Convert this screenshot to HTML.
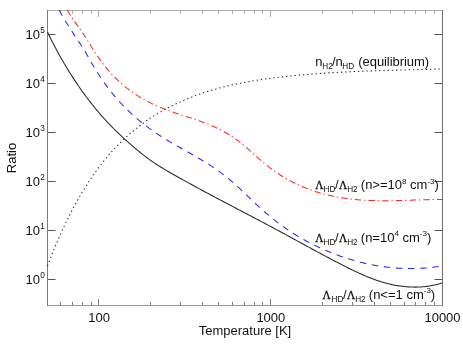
<!DOCTYPE html>
<html><head><meta charset="utf-8"><title>plot</title>
<style>
html,body{margin:0;padding:0;background:#fff;}
svg{display:block;will-change:transform;font-family:"Liberation Sans",sans-serif;font-size:13px;fill:#111;}
</style></head><body>
<svg width="463" height="348" viewBox="0 0 463 348">
<rect width="463" height="348" fill="#fff"/>
<g fill="none" stroke-width="1">
<path d="M47.5,10.5 H442.5" stroke="#b0b0b0"/><path d="M47.5,305.5 H442.5" stroke="#9c9c9c"/>
<path d="M47.5,10.0 V306.0" stroke="#7c7c7c"/><path d="M442.5,10.0 V306.0" stroke="#707070"/>
<path d="M60.5,305.0 v-3" stroke="#7a7a7a"/><path d="M60.5,11.0 v3" stroke="#acacac"/>
<path d="M72.5,305.0 v-3" stroke="#7a7a7a"/><path d="M72.5,11.0 v3" stroke="#acacac"/>
<path d="M82.5,305.0 v-3" stroke="#7a7a7a"/><path d="M82.5,11.0 v3" stroke="#acacac"/>
<path d="M91.5,305.0 v-3" stroke="#7a7a7a"/><path d="M91.5,11.0 v3" stroke="#acacac"/>
<path d="M98.5,305.0 v-6" stroke="#7a7a7a"/><path d="M98.5,11.0 v6" stroke="#acacac"/>
<path d="M150.5,305.0 v-3" stroke="#7a7a7a"/><path d="M150.5,11.0 v3" stroke="#acacac"/>
<path d="M180.5,305.0 v-3" stroke="#7a7a7a"/><path d="M180.5,11.0 v3" stroke="#acacac"/>
<path d="M202.5,305.0 v-3" stroke="#7a7a7a"/><path d="M202.5,11.0 v3" stroke="#acacac"/>
<path d="M218.5,305.0 v-3" stroke="#7a7a7a"/><path d="M218.5,11.0 v3" stroke="#acacac"/>
<path d="M232.5,305.0 v-3" stroke="#7a7a7a"/><path d="M232.5,11.0 v3" stroke="#acacac"/>
<path d="M244.5,305.0 v-3" stroke="#7a7a7a"/><path d="M244.5,11.0 v3" stroke="#acacac"/>
<path d="M254.5,305.0 v-3" stroke="#7a7a7a"/><path d="M254.5,11.0 v3" stroke="#acacac"/>
<path d="M262.5,305.0 v-3" stroke="#7a7a7a"/><path d="M262.5,11.0 v3" stroke="#acacac"/>
<path d="M270.5,305.0 v-6" stroke="#7a7a7a"/><path d="M270.5,11.0 v6" stroke="#acacac"/>
<path d="M322.5,305.0 v-3" stroke="#7a7a7a"/><path d="M322.5,11.0 v3" stroke="#acacac"/>
<path d="M352.5,305.0 v-3" stroke="#7a7a7a"/><path d="M352.5,11.0 v3" stroke="#acacac"/>
<path d="M374.5,305.0 v-3" stroke="#7a7a7a"/><path d="M374.5,11.0 v3" stroke="#acacac"/>
<path d="M390.5,305.0 v-3" stroke="#7a7a7a"/><path d="M390.5,11.0 v3" stroke="#acacac"/>
<path d="M404.5,305.0 v-3" stroke="#7a7a7a"/><path d="M404.5,11.0 v3" stroke="#acacac"/>
<path d="M415.5,305.0 v-3" stroke="#7a7a7a"/><path d="M415.5,11.0 v3" stroke="#acacac"/>
<path d="M425.5,305.0 v-3" stroke="#7a7a7a"/><path d="M425.5,11.0 v3" stroke="#acacac"/>
<path d="M434.5,305.0 v-3" stroke="#7a7a7a"/><path d="M434.5,11.0 v3" stroke="#acacac"/>
<path d="M48.0,279.5 h7.5 M442.0,279.5 h-7.5" stroke="#565656"/>
<path d="M48.0,230.5 h7.5 M442.0,230.5 h-7.5" stroke="#565656"/>
<path d="M48.0,181.5 h7.5 M442.0,181.5 h-7.5" stroke="#565656"/>
<path d="M48.0,132.5 h7.5 M442.0,132.5 h-7.5" stroke="#565656"/>
<path d="M48.0,83.5 h7.5 M442.0,83.5 h-7.5" stroke="#565656"/>
<path d="M48.0,34.5 h7.5 M442.0,34.5 h-7.5" stroke="#565656"/>
</g>
<g fill="none" stroke-width="1.05">
<path d="M47.50,32.01 L48.82,34.77 L50.14,37.49 L51.46,40.15 L52.78,42.77 L54.11,45.34 L55.43,47.86 L56.75,50.33 L58.07,52.76 L59.39,55.16 L60.71,57.51 L62.03,59.82 L63.35,62.10 L64.67,64.34 L65.99,66.55 L67.32,68.72 L68.64,70.87 L69.96,72.98 L71.28,75.07 L72.60,77.13 L73.92,79.15 L75.24,81.15 L76.56,83.13 L77.88,85.07 L79.21,86.99 L80.53,88.89 L81.85,90.75 L83.17,92.59 L84.49,94.40 L85.81,96.19 L87.13,97.96 L88.45,99.70 L89.77,101.41 L91.10,103.10 L92.42,104.77 L93.74,106.41 L95.06,108.03 L96.38,109.63 L97.70,111.20 L99.02,112.76 L100.34,114.29 L101.66,115.80 L102.98,117.29 L104.31,118.76 L105.63,120.21 L106.95,121.64 L108.27,123.05 L109.59,124.44 L110.91,125.81 L112.23,127.16 L113.55,128.50 L114.87,129.81 L116.20,131.11 L117.52,132.39 L118.84,133.66 L120.16,134.91 L121.48,136.15 L122.80,137.37 L124.12,138.58 L125.44,139.78 L126.76,140.96 L128.09,142.13 L129.41,143.30 L130.73,144.45 L132.05,145.60 L133.37,146.74 L134.69,147.87 L136.01,148.99 L137.33,150.09 L138.65,151.19 L139.97,152.27 L141.30,153.34 L142.62,154.40 L143.94,155.43 L145.26,156.46 L146.58,157.46 L147.90,158.45 L149.22,159.41 L150.54,160.36 L151.86,161.29 L153.19,162.19 L154.51,163.08 L155.83,163.95 L157.15,164.80 L158.47,165.64 L159.79,166.46 L161.11,167.27 L162.43,168.07 L163.75,168.86 L165.08,169.64 L166.40,170.41 L167.72,171.18 L169.04,171.94 L170.36,172.70 L171.68,173.46 L173.00,174.21 L174.32,174.96 L175.64,175.71 L176.96,176.46 L178.29,177.20 L179.61,177.94 L180.93,178.68 L182.25,179.42 L183.57,180.16 L184.89,180.90 L186.21,181.63 L187.53,182.36 L188.85,183.09 L190.18,183.82 L191.50,184.54 L192.82,185.27 L194.14,185.99 L195.46,186.71 L196.78,187.43 L198.10,188.15 L199.42,188.86 L200.74,189.58 L202.07,190.29 L203.39,191.00 L204.71,191.71 L206.03,192.42 L207.35,193.13 L208.67,193.83 L209.99,194.54 L211.31,195.24 L212.63,195.95 L213.95,196.65 L215.28,197.35 L216.60,198.05 L217.92,198.75 L219.24,199.45 L220.56,200.15 L221.88,200.84 L223.20,201.54 L224.52,202.23 L225.84,202.93 L227.17,203.62 L228.49,204.32 L229.81,205.01 L231.13,205.70 L232.45,206.40 L233.77,207.09 L235.09,207.78 L236.41,208.47 L237.73,209.17 L239.06,209.86 L240.38,210.55 L241.70,211.24 L243.02,211.93 L244.34,212.63 L245.66,213.32 L246.98,214.01 L248.30,214.70 L249.62,215.40 L250.94,216.09 L252.27,216.78 L253.59,217.48 L254.91,218.17 L256.23,218.87 L257.55,219.56 L258.87,220.26 L260.19,220.96 L261.51,221.65 L262.83,222.35 L264.16,223.05 L265.48,223.75 L266.80,224.45 L268.12,225.16 L269.44,225.86 L270.76,226.56 L272.08,227.27 L273.40,227.98 L274.72,228.68 L276.05,229.39 L277.37,230.10 L278.69,230.82 L280.01,231.53 L281.33,232.24 L282.65,232.96 L283.97,233.67 L285.29,234.39 L286.61,235.11 L287.93,235.83 L289.26,236.55 L290.58,237.27 L291.90,237.99 L293.22,238.71 L294.54,239.43 L295.86,240.15 L297.18,240.87 L298.50,241.60 L299.82,242.32 L301.15,243.04 L302.47,243.76 L303.79,244.48 L305.11,245.20 L306.43,245.92 L307.75,246.64 L309.07,247.36 L310.39,248.08 L311.71,248.79 L313.04,249.51 L314.36,250.23 L315.68,250.94 L317.00,251.65 L318.32,252.36 L319.64,253.08 L320.96,253.78 L322.28,254.49 L323.60,255.20 L324.92,255.90 L326.25,256.60 L327.57,257.30 L328.89,258.00 L330.21,258.70 L331.53,259.39 L332.85,260.09 L334.17,260.78 L335.49,261.46 L336.81,262.15 L338.14,262.83 L339.46,263.51 L340.78,264.19 L342.10,264.86 L343.42,265.54 L344.74,266.21 L346.06,266.87 L347.38,267.53 L348.70,268.19 L350.03,268.84 L351.35,269.49 L352.67,270.13 L353.99,270.76 L355.31,271.39 L356.63,272.01 L357.95,272.63 L359.27,273.23 L360.59,273.83 L361.91,274.42 L363.24,275.00 L364.56,275.57 L365.88,276.14 L367.20,276.69 L368.52,277.23 L369.84,277.76 L371.16,278.27 L372.48,278.78 L373.80,279.27 L375.13,279.75 L376.45,280.22 L377.77,280.67 L379.09,281.11 L380.41,281.54 L381.73,281.95 L383.05,282.34 L384.37,282.72 L385.69,283.08 L387.02,283.43 L388.34,283.76 L389.66,284.08 L390.98,284.38 L392.30,284.67 L393.62,284.94 L394.94,285.19 L396.26,285.43 L397.58,285.65 L398.90,285.86 L400.23,286.05 L401.55,286.23 L402.87,286.39 L404.19,286.53 L405.51,286.66 L406.83,286.78 L408.15,286.87 L409.47,286.95 L410.79,287.02 L412.12,287.07 L413.44,287.10 L414.76,287.11 L416.08,287.10 L417.40,287.08 L418.72,287.04 L420.04,286.98 L421.36,286.90 L422.68,286.80 L424.01,286.69 L425.33,286.55 L426.65,286.39 L427.97,286.22 L429.29,286.02 L430.61,285.81 L431.93,285.57 L433.25,285.31 L434.57,285.03 L435.89,284.73 L437.22,284.41 L438.54,284.07 L439.86,283.70 L441.18,283.31 L442.50,282.90" stroke="#282828"/>
<path d="M59.30,10.01 L60.58,12.66 L61.86,15.10 L63.14,17.38 L64.43,19.52 L65.71,21.57 L66.99,23.57 L68.27,25.54 L69.55,27.53 L70.83,29.55 L72.12,31.58 L73.40,33.60 L74.68,35.60 L75.96,37.57 L77.24,39.50 L78.52,41.40 L79.81,43.30 L81.09,45.22 L82.37,47.17 L83.65,49.18 L84.93,51.25 L86.21,53.41 L87.50,55.64 L88.78,57.91 L90.06,60.19 L91.34,62.45 L92.62,64.67 L93.90,66.84 L95.18,68.96 L96.47,71.04 L97.75,73.07 L99.03,75.06 L100.31,77.01 L101.59,78.92 L102.87,80.79 L104.16,82.61 L105.44,84.40 L106.72,86.15 L108.00,87.86 L109.28,89.54 L110.56,91.18 L111.85,92.79 L113.13,94.36 L114.41,95.90 L115.69,97.41 L116.97,98.89 L118.25,100.34 L119.54,101.76 L120.82,103.15 L122.10,104.51 L123.38,105.85 L124.66,107.16 L125.94,108.45 L127.23,109.71 L128.51,110.95 L129.79,112.17 L131.07,113.37 L132.35,114.54 L133.63,115.70 L134.91,116.83 L136.20,117.95 L137.48,119.04 L138.76,120.12 L140.04,121.18 L141.32,122.22 L142.60,123.24 L143.89,124.25 L145.17,125.24 L146.45,126.22 L147.73,127.17 L149.01,128.12 L150.29,129.05 L151.58,129.96 L152.86,130.87 L154.14,131.76 L155.42,132.63 L156.70,133.50 L157.98,134.35 L159.27,135.19 L160.55,136.02 L161.83,136.84 L163.11,137.66 L164.39,138.46 L165.67,139.25 L166.95,140.04 L168.24,140.81 L169.52,141.58 L170.80,142.35 L172.08,143.10 L173.36,143.85 L174.64,144.60 L175.93,145.34 L177.21,146.08 L178.49,146.81 L179.77,147.54 L181.05,148.26 L182.33,148.99 L183.62,149.71 L184.90,150.43 L186.18,151.14 L187.46,151.86 L188.74,152.58 L190.02,153.30 L191.31,154.02 L192.59,154.75 L193.87,155.48 L195.15,156.21 L196.43,156.94 L197.71,157.68 L198.99,158.43 L200.28,159.18 L201.56,159.94 L202.84,160.71 L204.12,161.48 L205.40,162.27 L206.68,163.06 L207.97,163.87 L209.25,164.68 L210.53,165.51 L211.81,166.34 L213.09,167.19 L214.37,168.06 L215.66,168.94 L216.94,169.83 L218.22,170.74 L219.50,171.66 L220.78,172.60 L222.06,173.56 L223.35,174.54 L224.63,175.53 L225.91,176.55 L227.19,177.58 L228.47,178.63 L229.75,179.71 L231.04,180.80 L232.32,181.92 L233.60,183.05 L234.88,184.19 L236.16,185.35 L237.44,186.53 L238.72,187.71 L240.01,188.91 L241.29,190.11 L242.57,191.32 L243.85,192.54 L245.13,193.76 L246.41,194.99 L247.70,196.21 L248.98,197.44 L250.26,198.66 L251.54,199.89 L252.82,201.10 L254.10,202.32 L255.39,203.52 L256.67,204.72 L257.95,205.90 L259.23,207.08 L260.51,208.24 L261.79,209.39 L263.08,210.53 L264.36,211.65 L265.64,212.76 L266.92,213.85 L268.20,214.93 L269.48,216.00 L270.76,217.05 L272.05,218.09 L273.33,219.12 L274.61,220.13 L275.89,221.13 L277.17,222.12 L278.45,223.09 L279.74,224.05 L281.02,224.99 L282.30,225.92 L283.58,226.84 L284.86,227.75 L286.14,228.64 L287.43,229.52 L288.71,230.38 L289.99,231.23 L291.27,232.07 L292.55,232.90 L293.83,233.71 L295.12,234.51 L296.40,235.30 L297.68,236.08 L298.96,236.85 L300.24,237.60 L301.52,238.34 L302.81,239.07 L304.09,239.79 L305.37,240.50 L306.65,241.20 L307.93,241.89 L309.21,242.56 L310.49,243.23 L311.78,243.88 L313.06,244.53 L314.34,245.16 L315.62,245.79 L316.90,246.40 L318.18,247.01 L319.47,247.60 L320.75,248.19 L322.03,248.77 L323.31,249.33 L324.59,249.89 L325.87,250.44 L327.16,250.98 L328.44,251.52 L329.72,252.04 L331.00,252.56 L332.28,253.07 L333.56,253.57 L334.85,254.06 L336.13,254.55 L337.41,255.02 L338.69,255.49 L339.97,255.95 L341.25,256.40 L342.53,256.84 L343.82,257.28 L345.10,257.71 L346.38,258.12 L347.66,258.53 L348.94,258.94 L350.22,259.33 L351.51,259.72 L352.79,260.10 L354.07,260.46 L355.35,260.83 L356.63,261.18 L357.91,261.52 L359.20,261.86 L360.48,262.19 L361.76,262.51 L363.04,262.82 L364.32,263.12 L365.60,263.42 L366.89,263.71 L368.17,263.99 L369.45,264.26 L370.73,264.52 L372.01,264.77 L373.29,265.02 L374.57,265.26 L375.86,265.48 L377.14,265.71 L378.42,265.92 L379.70,266.12 L380.98,266.32 L382.26,266.51 L383.55,266.69 L384.83,266.86 L386.11,267.02 L387.39,267.17 L388.67,267.32 L389.95,267.46 L391.24,267.59 L392.52,267.71 L393.80,267.82 L395.08,267.93 L396.36,268.02 L397.64,268.11 L398.93,268.19 L400.21,268.26 L401.49,268.32 L402.77,268.38 L404.05,268.42 L405.33,268.46 L406.62,268.49 L407.90,268.51 L409.18,268.52 L410.46,268.53 L411.74,268.52 L413.02,268.51 L414.30,268.49 L415.59,268.46 L416.87,268.42 L418.15,268.38 L419.43,268.32 L420.71,268.26 L421.99,268.19 L423.28,268.11 L424.56,268.02 L425.84,267.92 L427.12,267.81 L428.40,267.70 L429.68,267.58 L430.97,267.45 L432.25,267.31 L433.53,267.16 L434.81,267.00 L436.09,266.84 L437.37,266.67 L438.66,266.48 L439.94,266.29 L441.22,266.10 L442.50,265.89" stroke="#2626ff" stroke-dasharray="6.45 5.72"/>
<path d="M67.30,10.00 L68.55,12.21 L69.81,14.31 L71.06,16.31 L72.32,18.23 L73.57,20.09 L74.83,21.89 L76.08,23.67 L77.34,25.41 L78.59,27.16 L79.85,28.91 L81.10,30.69 L82.36,32.50 L83.61,34.37 L84.87,36.29 L86.12,38.25 L87.38,40.24 L88.63,42.26 L89.89,44.28 L91.14,46.30 L92.40,48.31 L93.65,50.30 L94.91,52.26 L96.16,54.18 L97.42,56.04 L98.67,57.86 L99.93,59.63 L101.18,61.35 L102.44,63.03 L103.69,64.66 L104.95,66.25 L106.20,67.80 L107.46,69.30 L108.71,70.77 L109.96,72.19 L111.22,73.58 L112.47,74.93 L113.73,76.24 L114.98,77.52 L116.24,78.77 L117.49,79.98 L118.75,81.15 L120.00,82.30 L121.26,83.42 L122.51,84.51 L123.77,85.57 L125.02,86.60 L126.28,87.60 L127.53,88.59 L128.79,89.54 L130.04,90.48 L131.30,91.39 L132.55,92.28 L133.81,93.15 L135.06,94.00 L136.32,94.83 L137.57,95.64 L138.83,96.43 L140.08,97.19 L141.34,97.95 L142.59,98.68 L143.85,99.40 L145.10,100.09 L146.36,100.78 L147.61,101.44 L148.87,102.09 L150.12,102.73 L151.37,103.35 L152.63,103.95 L153.88,104.55 L155.14,105.12 L156.39,105.69 L157.65,106.24 L158.90,106.78 L160.16,107.31 L161.41,107.83 L162.67,108.34 L163.92,108.84 L165.18,109.33 L166.43,109.81 L167.69,110.28 L168.94,110.74 L170.20,111.20 L171.45,111.64 L172.71,112.09 L173.96,112.52 L175.22,112.95 L176.47,113.37 L177.73,113.79 L178.98,114.21 L180.24,114.62 L181.49,115.03 L182.75,115.44 L184.00,115.84 L185.26,116.25 L186.51,116.65 L187.77,117.06 L189.02,117.46 L190.28,117.87 L191.53,118.28 L192.78,118.69 L194.04,119.11 L195.29,119.53 L196.55,119.96 L197.80,120.39 L199.06,120.83 L200.31,121.27 L201.57,121.72 L202.82,122.18 L204.08,122.65 L205.33,123.12 L206.59,123.61 L207.84,124.11 L209.10,124.61 L210.35,125.13 L211.61,125.67 L212.86,126.21 L214.12,126.77 L215.37,127.34 L216.63,127.93 L217.88,128.53 L219.14,129.15 L220.39,129.78 L221.65,130.43 L222.90,131.10 L224.16,131.79 L225.41,132.50 L226.67,133.22 L227.92,133.97 L229.18,134.73 L230.43,135.52 L231.69,136.33 L232.94,137.15 L234.19,138.00 L235.45,138.88 L236.70,139.77 L237.96,140.69 L239.21,141.63 L240.47,142.60 L241.72,143.59 L242.98,144.60 L244.23,145.65 L245.49,146.71 L246.74,147.80 L248.00,148.90 L249.25,150.02 L250.51,151.15 L251.76,152.29 L253.02,153.43 L254.27,154.57 L255.53,155.72 L256.78,156.85 L258.04,157.98 L259.29,159.10 L260.55,160.21 L261.80,161.29 L263.06,162.36 L264.31,163.41 L265.57,164.43 L266.82,165.44 L268.08,166.42 L269.33,167.39 L270.59,168.34 L271.84,169.27 L273.10,170.18 L274.35,171.07 L275.61,171.94 L276.86,172.80 L278.11,173.64 L279.37,174.46 L280.62,175.26 L281.88,176.05 L283.13,176.82 L284.39,177.57 L285.64,178.31 L286.90,179.03 L288.15,179.73 L289.41,180.42 L290.66,181.09 L291.92,181.75 L293.17,182.39 L294.43,183.02 L295.68,183.64 L296.94,184.24 L298.19,184.82 L299.45,185.40 L300.70,185.96 L301.96,186.50 L303.21,187.03 L304.47,187.55 L305.72,188.06 L306.98,188.56 L308.23,189.04 L309.49,189.51 L310.74,189.97 L312.00,190.41 L313.25,190.85 L314.51,191.27 L315.76,191.68 L317.02,192.08 L318.27,192.47 L319.52,192.84 L320.78,193.21 L322.03,193.56 L323.29,193.91 L324.54,194.24 L325.80,194.57 L327.05,194.88 L328.31,195.18 L329.56,195.47 L330.82,195.76 L332.07,196.03 L333.33,196.30 L334.58,196.55 L335.84,196.80 L337.09,197.03 L338.35,197.26 L339.60,197.48 L340.86,197.69 L342.11,197.89 L343.37,198.08 L344.62,198.27 L345.88,198.45 L347.13,198.62 L348.39,198.78 L349.64,198.93 L350.90,199.08 L352.15,199.22 L353.41,199.35 L354.66,199.47 L355.92,199.59 L357.17,199.70 L358.43,199.80 L359.68,199.90 L360.93,199.99 L362.19,200.08 L363.44,200.16 L364.70,200.23 L365.95,200.30 L367.21,200.36 L368.46,200.42 L369.72,200.47 L370.97,200.52 L372.23,200.56 L373.48,200.60 L374.74,200.63 L375.99,200.66 L377.25,200.68 L378.50,200.70 L379.76,200.71 L381.01,200.72 L382.27,200.73 L383.52,200.73 L384.78,200.73 L386.03,200.73 L387.29,200.72 L388.54,200.71 L389.80,200.70 L391.05,200.68 L392.31,200.66 L393.56,200.64 L394.82,200.62 L396.07,200.59 L397.33,200.56 L398.58,200.53 L399.84,200.50 L401.09,200.47 L402.34,200.43 L403.60,200.40 L404.85,200.36 L406.11,200.32 L407.36,200.28 L408.62,200.24 L409.87,200.20 L411.13,200.16 L412.38,200.12 L413.64,200.08 L414.89,200.04 L416.15,199.99 L417.40,199.95 L418.66,199.91 L419.91,199.87 L421.17,199.83 L422.42,199.79 L423.68,199.76 L424.93,199.72 L426.19,199.68 L427.44,199.65 L428.70,199.62 L429.95,199.59 L431.21,199.56 L432.46,199.53 L433.72,199.51 L434.97,199.48 L436.23,199.46 L437.48,199.45 L438.74,199.43 L439.99,199.42 L441.25,199.41 L442.50,199.40" stroke="#ff2626" stroke-dasharray="6.3 2.9 1.3 3.2"/>
<path d="M47.50,265.96 L48.82,262.48 L50.14,259.06 L51.46,255.70 L52.78,252.40 L54.11,249.15 L55.43,245.96 L56.75,242.83 L58.07,239.75 L59.39,236.73 L60.71,233.76 L62.03,230.84 L63.35,227.97 L64.67,225.16 L65.99,222.39 L67.32,219.67 L68.64,217.01 L69.96,214.39 L71.28,211.81 L72.60,209.28 L73.92,206.80 L75.24,204.36 L76.56,201.97 L77.88,199.62 L79.21,197.31 L80.53,195.04 L81.85,192.81 L83.17,190.62 L84.49,188.47 L85.81,186.36 L87.13,184.28 L88.45,182.25 L89.77,180.24 L91.10,178.28 L92.42,176.35 L93.74,174.45 L95.06,172.59 L96.38,170.76 L97.70,168.96 L99.02,167.20 L100.34,165.46 L101.66,163.76 L102.98,162.08 L104.31,160.44 L105.63,158.82 L106.95,157.24 L108.27,155.68 L109.59,154.14 L110.91,152.64 L112.23,151.16 L113.55,149.71 L114.87,148.28 L116.20,146.88 L117.52,145.50 L118.84,144.15 L120.16,142.82 L121.48,141.52 L122.80,140.24 L124.12,138.98 L125.44,137.74 L126.76,136.53 L128.09,135.34 L129.41,134.17 L130.73,133.02 L132.05,131.89 L133.37,130.79 L134.69,129.70 L136.01,128.63 L137.33,127.58 L138.65,126.55 L139.97,125.54 L141.30,124.54 L142.62,123.57 L143.94,122.61 L145.26,121.67 L146.58,120.74 L147.90,119.83 L149.22,118.94 L150.54,118.07 L151.86,117.21 L153.19,116.36 L154.51,115.53 L155.83,114.72 L157.15,113.91 L158.47,113.13 L159.79,112.35 L161.11,111.59 L162.43,110.85 L163.75,110.11 L165.08,109.39 L166.40,108.68 L167.72,107.98 L169.04,107.29 L170.36,106.62 L171.68,105.95 L173.00,105.30 L174.32,104.65 L175.64,104.02 L176.96,103.39 L178.29,102.78 L179.61,102.17 L180.93,101.57 L182.25,100.99 L183.57,100.41 L184.89,99.84 L186.21,99.29 L187.53,98.74 L188.85,98.20 L190.18,97.67 L191.50,97.15 L192.82,96.63 L194.14,96.13 L195.46,95.63 L196.78,95.14 L198.10,94.67 L199.42,94.19 L200.74,93.73 L202.07,93.28 L203.39,92.83 L204.71,92.39 L206.03,91.96 L207.35,91.54 L208.67,91.13 L209.99,90.72 L211.31,90.32 L212.63,89.93 L213.95,89.54 L215.28,89.16 L216.60,88.79 L217.92,88.43 L219.24,88.07 L220.56,87.72 L221.88,87.38 L223.20,87.04 L224.52,86.71 L225.84,86.38 L227.17,86.07 L228.49,85.75 L229.81,85.45 L231.13,85.15 L232.45,84.85 L233.77,84.56 L235.09,84.28 L236.41,84.00 L237.73,83.73 L239.06,83.46 L240.38,83.20 L241.70,82.94 L243.02,82.69 L244.34,82.44 L245.66,82.19 L246.98,81.96 L248.30,81.72 L249.62,81.49 L250.94,81.27 L252.27,81.04 L253.59,80.83 L254.91,80.61 L256.23,80.40 L257.55,80.20 L258.87,80.00 L260.19,79.80 L261.51,79.60 L262.83,79.41 L264.16,79.22 L265.48,79.04 L266.80,78.85 L268.12,78.67 L269.44,78.50 L270.76,78.32 L272.08,78.15 L273.40,77.98 L274.72,77.81 L276.05,77.65 L277.37,77.49 L278.69,77.33 L280.01,77.17 L281.33,77.02 L282.65,76.87 L283.97,76.72 L285.29,76.57 L286.61,76.42 L287.93,76.28 L289.26,76.14 L290.58,76.00 L291.90,75.87 L293.22,75.73 L294.54,75.60 L295.86,75.47 L297.18,75.34 L298.50,75.22 L299.82,75.10 L301.15,74.98 L302.47,74.86 L303.79,74.74 L305.11,74.62 L306.43,74.51 L307.75,74.40 L309.07,74.29 L310.39,74.18 L311.71,74.08 L313.04,73.98 L314.36,73.87 L315.68,73.77 L317.00,73.68 L318.32,73.58 L319.64,73.49 L320.96,73.39 L322.28,73.30 L323.60,73.21 L324.92,73.12 L326.25,73.04 L327.57,72.95 L328.89,72.87 L330.21,72.79 L331.53,72.71 L332.85,72.63 L334.17,72.55 L335.49,72.48 L336.81,72.40 L338.14,72.33 L339.46,72.26 L340.78,72.19 L342.10,72.12 L343.42,72.05 L344.74,71.99 L346.06,71.92 L347.38,71.86 L348.70,71.79 L350.03,71.73 L351.35,71.67 L352.67,71.61 L353.99,71.56 L355.31,71.50 L356.63,71.44 L357.95,71.39 L359.27,71.33 L360.59,71.28 L361.91,71.23 L363.24,71.18 L364.56,71.13 L365.88,71.08 L367.20,71.03 L368.52,70.98 L369.84,70.94 L371.16,70.89 L372.48,70.85 L373.80,70.80 L375.13,70.76 L376.45,70.72 L377.77,70.67 L379.09,70.63 L380.41,70.59 L381.73,70.55 L383.05,70.51 L384.37,70.47 L385.69,70.43 L387.02,70.40 L388.34,70.36 L389.66,70.32 L390.98,70.29 L392.30,70.25 L393.62,70.21 L394.94,70.18 L396.26,70.14 L397.58,70.11 L398.90,70.07 L400.23,70.04 L401.55,70.01 L402.87,69.97 L404.19,69.94 L405.51,69.91 L406.83,69.87 L408.15,69.84 L409.47,69.81 L410.79,69.77 L412.12,69.74 L413.44,69.71 L414.76,69.67 L416.08,69.64 L417.40,69.61 L418.72,69.58 L420.04,69.54 L421.36,69.51 L422.68,69.48 L424.01,69.44 L425.33,69.41 L426.65,69.38 L427.97,69.34 L429.29,69.31 L430.61,69.27 L431.93,69.24 L433.25,69.20 L434.57,69.17 L435.89,69.13 L437.22,69.10 L438.54,69.06 L439.86,69.02 L441.18,68.98 L442.50,68.95" stroke="#222" stroke-dasharray="1.3 2.94"/>
</g>
<text x="39.9" y="283.80" text-anchor="end">10</text><text x="40.2" y="278.20" font-size="8.3">0</text>
<text x="39.9" y="234.80" text-anchor="end">10</text><text x="40.2" y="229.20" font-size="8.3">1</text>
<text x="39.9" y="185.80" text-anchor="end">10</text><text x="40.2" y="180.20" font-size="8.3">2</text>
<text x="39.9" y="136.80" text-anchor="end">10</text><text x="40.2" y="131.20" font-size="8.3">3</text>
<text x="39.9" y="87.80" text-anchor="end">10</text><text x="40.2" y="82.20" font-size="8.3">4</text>
<text x="39.9" y="38.80" text-anchor="end">10</text><text x="40.2" y="33.20" font-size="8.3">5</text>
<text x="99.18" y="322" text-anchor="middle">100</text>
<text x="270.84" y="322" text-anchor="middle">1000</text>
<text x="442.50" y="322" text-anchor="middle">10000</text>
<text x="245" y="335" text-anchor="middle">Temperature [K]</text>
<text transform="translate(15.8,158) rotate(-90)" text-anchor="middle">Ratio</text>
<text x="315.15" y="66.40">n</text>
<text x="322.23" y="69.30" font-size="8.2">H2</text>
<text x="332.00" y="66.40">/n</text>
<text x="342.33" y="69.30" font-size="8.2">HD</text>
<text x="358.30" y="66.40" letter-spacing="-0.07">(equilibrium)</text>
<text transform="translate(315.19,189.10) scale(0.87,1)" font-family="Liberation Serif" stroke="#111" stroke-width="0.35">Λ</text>
<text x="323.53" y="192.20" font-size="8.2">HD</text>
<text x="335.00" y="189.10">/</text>
<text transform="translate(338.89,189.10) scale(0.87,1)" font-family="Liberation Serif" stroke="#111" stroke-width="0.35">Λ</text>
<text x="347.13" y="192.20" font-size="8.2">H2</text>
<text x="360.80" y="189.10">(n&gt;=10<tspan font-size="8.0" dy="-5.30">8</tspan><tspan dy="5.30"> cm</tspan><tspan font-size="8.0" dy="-5.30">-3</tspan><tspan dy="5.30">)</tspan></text>
<text transform="translate(315.19,241.70) scale(0.87,1)" font-family="Liberation Serif" stroke="#111" stroke-width="0.35">Λ</text>
<text x="323.53" y="244.80" font-size="8.2">HD</text>
<text x="335.00" y="241.70">/</text>
<text transform="translate(338.89,241.70) scale(0.87,1)" font-family="Liberation Serif" stroke="#111" stroke-width="0.35">Λ</text>
<text x="347.13" y="244.80" font-size="8.2">H2</text>
<text x="360.80" y="241.70">(n=10<tspan font-size="8.0" dy="-5.30">4</tspan><tspan dy="5.30"> cm</tspan><tspan font-size="8.0" dy="-5.30">-3</tspan><tspan dy="5.30">)</tspan></text>
<text transform="translate(322.59,298.50) scale(0.87,1)" font-family="Liberation Serif" stroke="#111" stroke-width="0.35">Λ</text>
<text x="331.53" y="301.60" font-size="8.2">HD</text>
<text x="343.00" y="298.50">/</text>
<text transform="translate(346.89,298.50) scale(0.87,1)" font-family="Liberation Serif" stroke="#111" stroke-width="0.35">Λ</text>
<text x="355.13" y="301.60" font-size="8.2">H2</text>
<text x="368.80" y="298.50">(n&lt;=1 cm<tspan font-size="8.0" dy="-5.30">-3</tspan><tspan dy="5.30">)</tspan></text>
</svg>
</body></html>
